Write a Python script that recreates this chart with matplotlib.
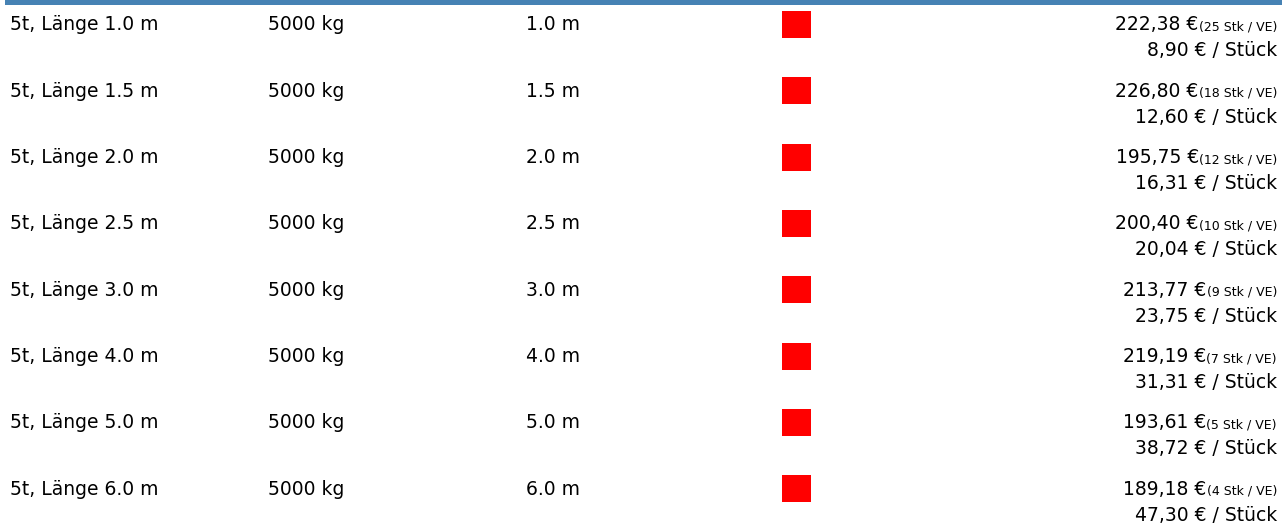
import matplotlib
matplotlib.use('Agg')
import matplotlib.pyplot as plt
from matplotlib.patches import Rectangle

# table content
lengths = ['1.0', '1.5', '2.0', '2.5', '3.0', '4.0', '5.0', '6.0']
weights = ['5000 kg'] * 8
price_ve = ['222,38', '226,80', '195,75', '200,40', '213,77', '219,19', '193,61', '189,18']
pcs_ve = [25, 18, 12, 10, 9, 7, 5, 4]
price_pc = ['8,90', '12,60', '16,31', '20,04', '23,75', '31,31', '38,72', '47,30']
swatch_color = '#ff0000'

W, H = 1282, 524
plt.rcParams['font.family'] = ['DejaVu Sans']

fig = plt.figure(figsize=(W / 100, H / 100), dpi=100)
ax = fig.add_axes([0, 0, 1, 1])
ax.set_xlim(0, W)
ax.set_ylim(H, 0)
ax.axis('off')

# header strip
ax.add_patch(Rectangle((5, 0), W - 5, 5, color='#4682b4', lw=0))

fs = 13.5
fs_small = 9
row_h = 66.3
txt_col = '#000000'
fig.canvas.draw()
renderer = fig.canvas.get_renderer()

for i, L in enumerate(lengths):
    b1 = 30.5 + i * row_h   # baseline of first line
    b2 = 56.5 + i * row_h   # baseline of second line
    ax.text(10, b1, '5t, Länge %s m' % L, fontsize=fs, va='baseline', color=txt_col)
    ax.text(268, b1, weights[i], fontsize=fs, va='baseline', color=txt_col)
    ax.text(526, b1, '%s m' % L, fontsize=fs, va='baseline', color=txt_col)
    ax.add_patch(Rectangle((782, 11 + i * row_h), 29, 27, color=swatch_color, lw=0))

    small = ax.text(1277, b1, '(%d Stk / VE)' % pcs_ve[i], fontsize=fs_small,
                    ha='right', va='baseline', color=txt_col)
    w_small = small.get_window_extent(renderer).width
    ax.text(1277 - w_small, b1, '%s €' % price_ve[i], fontsize=fs,
            ha='right', va='baseline', color=txt_col)
    ax.text(1277, b2, '%s € / Stück' % price_pc[i], fontsize=fs,
            ha='right', va='baseline', color=txt_col)

fig.savefig('out.png', dpi=100)
